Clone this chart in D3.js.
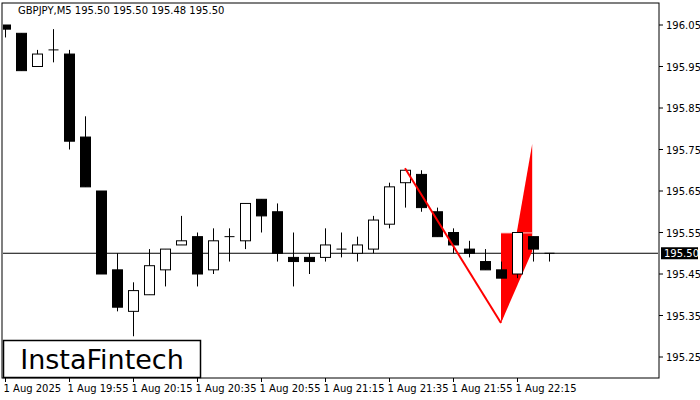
<!DOCTYPE html>
<html><head><meta charset="utf-8">
<script src="https://cdn.jsdelivr.net/npm/d3@7"></script>
<style>body{margin:0;background:#fff}svg{display:block}text{font-family:Tahoma,"DejaVu Sans",sans-serif}</style>
</head><body><div id="chart"></div>
<script>
// --- data (OHLC per 5-minute bar, starting 1 Aug 19:35) ---
const opens  = [196.05,196.03,195.95,195.99,195.98,195.78,195.65,195.46,195.36,195.40,195.46,195.52,195.54,195.46,195.54,195.53,195.63,195.60,195.49,195.49,195.49,195.51,195.50,195.51,195.57,195.67,195.69,195.60,195.55,195.51,195.48,195.46,195.45,195.54,195.50];
const highs  = [196.05,196.03,195.99,196.04,195.99,195.83,195.65,195.50,195.43,195.51,195.51,195.59,195.55,195.56,195.56,195.62,195.63,195.62,195.55,195.50,195.56,195.55,195.54,195.59,195.67,195.70,195.70,195.61,195.56,195.53,195.51,195.48,195.55,195.54,195.50];
const lows   = [196.02,195.94,195.95,195.96,195.75,195.66,195.45,195.36,195.30,195.40,195.42,195.52,195.42,195.45,195.48,195.51,195.55,195.48,195.42,195.45,195.48,195.49,195.48,195.50,195.56,195.61,195.60,195.54,195.50,195.49,195.46,195.44,195.44,195.48,195.48];
const closes = [196.04,195.94,195.98,195.99,195.77,195.66,195.45,195.37,195.41,195.47,195.51,195.53,195.45,195.53,195.54,195.62,195.59,195.50,195.48,195.48,195.52,195.51,195.52,195.58,195.66,195.70,195.61,195.54,195.52,195.50,195.46,195.44,195.55,195.51,195.50];
const priceTicks = [196.05,195.95,195.85,195.75,195.65,195.55,195.45,195.35,195.25];
const timeLabels = [[0,"1 Aug 2025"],[4,"1 Aug 19:55"],[8,"1 Aug 20:15"],[12,"1 Aug 20:35"],[16,"1 Aug 20:55"],[20,"1 Aug 21:15"],[24,"1 Aug 21:35"],[28,"1 Aug 21:55"],[32,"1 Aug 22:15"]];
const lastPrice = 195.50;
// pattern: pole from bar 25 high down to bar 31, flag at bar 33
const poleLine = [[25,195.705],[31,195.332]];
const flagTop = [32.95,195.763], flagMid = 195.549, flagLow = 195.505;

const W = 700, H = 400, plotL = 2, plotR = 659, plotT = 3, plotB = 378;
const x = d3.scaleLinear().domain([0,1]).range([5,21]);
const y = d3.scaleLinear().domain([196.05,195.25]).range([25,357]);

const svg = d3.select("#chart").append("svg").attr("width",W).attr("height",H);
svg.append("rect").attr("x",plotL).attr("y",plotT).attr("width",plotR-plotL).attr("height",plotB-plotT)
  .attr("fill","#fff").attr("stroke","#000");

const clip = svg.append("clipPath").attr("id","c").append("rect")
  .attr("x",plotL+1).attr("y",plotT+1).attr("width",plotR-plotL-2).attr("height",plotB-plotT-2);
const g = svg.append("g").attr("clip-path","url(#c)");

// current price line
g.append("line").attr("x1",plotL).attr("x2",plotR).attr("y1",y(lastPrice)).attr("y2",y(lastPrice)).attr("stroke","#000");

// red flag (behind candles)
const xb = poleLine[1][0], yb = poleLine[1][1];
g.append("path").attr("fill","#f00")
  .attr("d",`M${x(xb)},${y(yb)}L${x(flagTop[0])},${y(flagTop[1])}L${x(flagTop[0])},${y(flagLow)}Z`);
g.append("path").attr("fill","#f00")
  .attr("d",`M${x(xb)},${y(yb)}L${x(xb)},${y(flagMid)}L${x(flagTop[0])},${y(flagMid)}Z`);
g.append("line").attr("x1",x(xb)).attr("x2",x(flagTop[0])).attr("y1",y(flagMid)).attr("y2",y(flagMid)).attr("stroke","#fcc");

// candles
opens.forEach((o,i)=>{
  const c = closes[i], cx = Math.round(x(i))+0.5;
  g.append("line").attr("x1",cx).attr("x2",cx).attr("y1",y(highs[i])).attr("y2",y(lows[i])).attr("stroke","#000");
  const top = y(Math.max(o,c)), bot = y(Math.min(o,c));
  if (Math.abs(bot-top) < 1.5) {
    g.append("line").attr("x1",cx-5).attr("x2",cx+5).attr("y1",top).attr("y2",top).attr("stroke","#000");
  } else {
    g.append("rect").attr("x",cx-5).attr("y",top).attr("width",10).attr("height",bot-top)
      .attr("fill", c>=o ? "#fff" : "#000").attr("stroke","#000");
  }
});

// pole line on top
g.append("line").attr("x1",x(poleLine[0][0])).attr("y1",y(poleLine[0][1])).attr("x2",x(xb)).attr("y2",y(yb))
  .attr("stroke","#f00").attr("stroke-width",2);

// right axis
priceTicks.forEach(p=>{
  svg.append("line").attr("x1",plotR).attr("x2",plotR+4).attr("y1",y(p)).attr("y2",y(p)).attr("stroke","#000");
  svg.append("text").attr("x",666).attr("y",y(p)+4).attr("font-size",10).text(p.toFixed(2));
});
svg.append("rect").attr("x",661).attr("y",y(lastPrice)-6).attr("width",37).attr("height",12).attr("fill","#000");
svg.append("text").attr("x",664).attr("y",y(lastPrice)+4).attr("font-size",10).attr("fill","#fff").text(lastPrice.toFixed(2));

// bottom axis
timeLabels.forEach(([i,t])=>{
  const tx = Math.round(x(i))+0.5;
  svg.append("line").attr("x1",tx).attr("x2",tx).attr("y1",plotB).attr("y2",plotB+4).attr("stroke","#000");
  svg.append("text").attr("x",tx-2).attr("y",392).attr("font-size",10).text(t);
});

// header
svg.append("text").attr("x",18).attr("y",14).attr("font-size",10).attr("fill","#000").text("GBPJPY,M5  195.50 195.50 195.48 195.50");

// logo
svg.append("rect").attr("x",3.5).attr("y",340.5).attr("width",197).attr("height",37).attr("fill","#fff").attr("stroke","#000").attr("stroke-width",1.5);
svg.append("text").attr("x",102).attr("y",369).attr("text-anchor","middle").attr("font-size",27)
  .attr("font-family","'Open Sans',sans-serif").attr("fill","#000").text("InstaFintech");
</script></body></html>
